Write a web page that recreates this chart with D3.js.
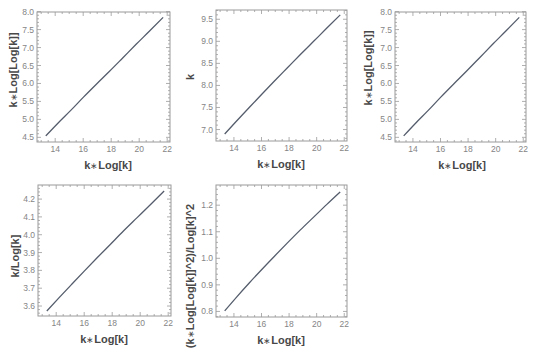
<!DOCTYPE html>
<html><head><meta charset="utf-8">
<script src="https://cdn.jsdelivr.net/npm/d3@7"></script>
<style>
body{margin:0;background:#fff;}
svg{display:block;font-family:"Liberation Sans",Arial,sans-serif;}
</style></head>
<body>
<svg id="c" width="540" height="354"></svg>
<script>
// ---- data ----
const kLogK     = [13.33, 14.21, 15.11, 16.02, 16.94, 17.88, 18.82, 19.78, 20.74, 21.71];
const kVals     = [6.90, 7.20, 7.50, 7.80, 8.10, 8.40, 8.70, 9.00, 9.30, 9.60];
const kLogLogK  = [4.54, 4.90, 5.25, 5.62, 5.98, 6.34, 6.71, 7.09, 7.46, 7.84];
const kOverLogK = [3.572, 3.647, 3.722, 3.797, 3.872, 3.947, 4.022, 4.096, 4.170, 4.245];
const ratioVals = [0.802, 0.855, 0.907, 0.958, 1.008, 1.058, 1.107, 1.155, 1.203, 1.250];

const xTicks   = [14, 16, 18, 20, 22];
const yTicks1  = [4.5, 5.0, 5.5, 6.0, 6.5, 7.0, 7.5, 8.0];
const yTicks2  = [7.0, 7.5, 8.0, 8.5, 9.0, 9.5];
const yTicks4  = [3.6, 3.7, 3.8, 3.9, 4.0, 4.1, 4.2];
const yTicks5  = [0.8, 0.9, 1.0, 1.1, 1.2];

const xTitle = "k\u2217Log[k]";
const yTitles = ["k\u2217Log[Log[k]]", "k", "k\u2217Log[Log[k]]", "k/Log[k]", "(k\u2217Log[Log[k]]^2)/Log[k]^2"];

// ---- layout ----
const panels = [
  {x0:37,  x1:170, y0:12,  y1:142, ys:kLogLogK,  yd:[4.37,7.99],  yt:yTicks1, minor:0.1,  fmt:d3.format(".1f"), ytx:13,  yty:70,  xtx:108},
  {x0:216, x1:347, y0:10,  y1:141, ys:kVals,     yd:[6.74,9.71],  yt:yTicks2, minor:0.1,  fmt:d3.format(".1f"), ytx:190, yty:77,  xtx:281},
  {x0:395, x1:526, y0:12,  y1:142, ys:kLogLogK,  yd:[4.37,7.99],  yt:yTicks1, minor:0.1,  fmt:d3.format(".1f"), ytx:368, yty:68,  xtx:462},
  {x0:38,  x1:171, y0:185, y1:316, ys:kOverLogK, yd:[3.544,4.279],yt:yTicks4, minor:0.02, fmt:d3.format(".1f"), ytx:15,  yty:256, xtx:104},
  {x0:216, x1:347, y0:185, y1:317, ys:ratioVals, yd:[0.779,1.276],yt:yTicks5, minor:0.02, fmt:d3.format(".1f"), ytx:190, yty:276, xtx:281}
];
const xDomain = [12.7, 22.2];

const svg = d3.select("#c");
const frameCol = "#9a9a9a", tickLblCol = "#858585", titleCol = "#484848", lineCol = "#555d6c";

function range(a, b, step){
  const out = [];
  const s = Math.ceil(a/step - 1e-9), e = Math.floor(b/step + 1e-9);
  for(let i=s;i<=e;i++) out.push(+(i*step).toFixed(6));
  return out;
}

// write a title, rendering the "∗" glyph smaller and lighter as in the reference
function writeTitle(sel, str){
  str.split("\u2217").forEach((part, idx) => {
    if(idx > 0) sel.append("tspan").attr("font-size", 8.5).attr("font-weight", "normal").text("\u2217");
    sel.append("tspan").text(part);
  });
}

panels.forEach((p, i) => {
  const x = d3.scaleLinear().domain(xDomain).range([p.x0, p.x1]);
  const y = d3.scaleLinear().domain(p.yd).range([p.y1, p.y0]);
  const g = svg.append("g");

  // frame
  g.append("rect").attr("x", p.x0).attr("y", p.y0)
    .attr("width", p.x1 - p.x0).attr("height", p.y1 - p.y0)
    .attr("fill", "none").attr("stroke", frameCol).attr("stroke-width", 1);

  const isMajor = (v, arr) => arr.some(t => Math.abs(t - v) < 1e-6);
  const xMinor = range(xDomain[0], xDomain[1], 0.5).filter(v => !isMajor(v, xTicks));
  const tk = g.append("g").attr("stroke", frameCol).attr("stroke-width", 0.8);
  xTicks.forEach(v => {
    const px = x(v);
    tk.append("line").attr("x1", px).attr("x2", px).attr("y1", p.y1).attr("y2", p.y1 - 4);
    tk.append("line").attr("x1", px).attr("x2", px).attr("y1", p.y0).attr("y2", p.y0 + 4);
  });
  xMinor.forEach(v => {
    const px = x(v);
    tk.append("line").attr("x1", px).attr("x2", px).attr("y1", p.y1).attr("y2", p.y1 - 2);
    tk.append("line").attr("x1", px).attr("x2", px).attr("y1", p.y0).attr("y2", p.y0 + 2);
  });
  const yMinor = range(p.yd[0], p.yd[1], p.minor).filter(v => !isMajor(v, p.yt));
  p.yt.forEach(v => {
    const py = y(v);
    tk.append("line").attr("x1", p.x0).attr("x2", p.x0 + 4).attr("y1", py).attr("y2", py);
    tk.append("line").attr("x1", p.x1).attr("x2", p.x1 - 4).attr("y1", py).attr("y2", py);
  });
  yMinor.forEach(v => {
    const py = y(v);
    tk.append("line").attr("x1", p.x0).attr("x2", p.x0 + 2).attr("y1", py).attr("y2", py);
    tk.append("line").attr("x1", p.x1).attr("x2", p.x1 - 2).attr("y1", py).attr("y2", py);
  });

  // tick labels
  g.selectAll(".xl").data(xTicks).enter().append("text")
    .attr("x", d => x(d)).attr("y", p.y1 + 10)
    .attr("text-anchor", "middle").attr("font-size", 8.5).attr("fill", tickLblCol)
    .text(d => d);
  g.selectAll(".yl").data(p.yt).enter().append("text")
    .attr("x", p.x0 - 3).attr("y", d => y(d) + 3)
    .attr("text-anchor", "end").attr("font-size", 8.5).attr("fill", tickLblCol)
    .text(d => p.fmt(d));

  // titles
  const xt = g.append("text").attr("x", p.xtx).attr("y", p.y1 + 27)
    .attr("text-anchor", "middle").attr("font-size", 11).attr("font-weight", "bold")
    .attr("fill", titleCol);
  writeTitle(xt, xTitle);
  const yt = g.append("text").attr("transform", `translate(${p.ytx + 4},${p.yty}) rotate(-90)`)
    .attr("text-anchor", "middle").attr("font-size", 11).attr("font-weight", "bold")
    .attr("fill", titleCol);
  writeTitle(yt, yTitles[i]);

  // curve
  const pts = kLogK.map((xv, j) => [xv, p.ys[j]]);
  g.append("path").datum(pts)
    .attr("d", d3.line().x(d => x(d[0])).y(d => y(d[1])).curve(d3.curveMonotoneX))
    .attr("fill", "none").attr("stroke", lineCol).attr("stroke-width", 1.3);
});
</script>
</body></html>
